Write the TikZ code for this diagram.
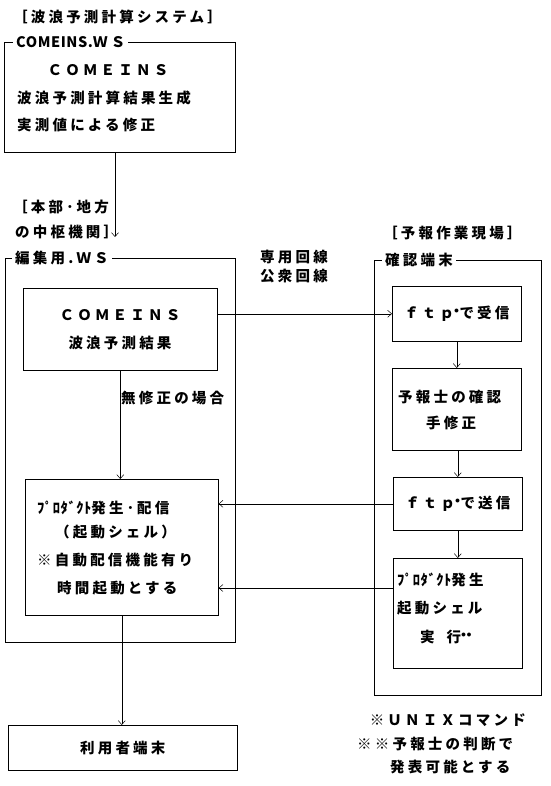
\documentclass[tikz,border=0pt]{standalone}
\usepackage{fontspec}
\usetikzlibrary{arrows.meta}
\newfontfamily\jp[LetterSpace=22]{Noto Sans CJK JP}
\newfontfamily\jpt[LetterSpace=4]{Noto Sans CJK JP}
\newcommand{\fmark}{$^{\bullet}$}
\newcommand{\pdk}{{\jpt\bfseries ﾌﾟﾛﾀﾞｸﾄ}}
\begin{document}
\begin{tikzpicture}[x=1pt,y=-1pt,
  txt/.style={inner sep=0pt, anchor=west, font={\jp\bfseries\fontsize{14.5}{16}\selectfont}},
  ctxt/.style={txt, anchor=center},
  frame/.style={draw, line width=1.1pt, anchor=north west, inner sep=0pt},
  box/.style={draw, line width=0.6pt, anchor=north west, inner sep=0pt},
  arr/.style={-{Straight Barb[length=4pt,width=7pt]}, line width=0.5pt},
  flabel/.style={txt, fill=white, inner xsep=3pt, inner ysep=2pt},
]
\useasboundingbox (0,0) rectangle (550,786);

% ---- top system
\node[txt] (t1) at (13,17) {［波浪予測計算システム］};
\node[frame, minimum width=231pt, minimum height=110pt] (topf) at (4,42) {};
\node[flabel] (topl) at (13,42) {{\jpt\bfseries COMEINS.}ＷＳ};
\node[ctxt] (t2) at (108,70) {ＣＯＭＥＩＮＳ};
\node[txt] (t3) at (17,98) {波浪予測計算結果生成};
\node[txt] (t4) at (17,125) {実測値による修正};

\node[txt] (h1) at (13,207) {［本部･地方};
\node[txt] (h2) at (15,232) {の中枢機関］};
\coordinate (a1) at (115,237);
\draw[arr] (topf.south -| a1) -- (a1);

% ---- editing WS
\node[frame, minimum width=230pt, minimum height=384pt] (editf) at (5,258) {};
\node[flabel] (editl) at (12,258) {編集用.ＷＳ};
\node[box, minimum width=194pt, minimum height=82pt] (cbox) at (23,288) {};
\node[ctxt] (c1) at (120,315) {ＣＯＭＥＩＮＳ};
\node[ctxt] (c2) at (120,343) {波浪予測結果};
\node[txt] (nm) at (121,398) {無修正の場合};

\node[box, minimum width=193pt, minimum height=136pt] (prod) at (25,479) {};
\node[txt] (p1) at (37,508) {\pdk 発生･配信};
\node[txt] (p2) at (55,532) {（起動シェル）};
\node[txt] (p3) at (37,560) {※自動配信機能有り};
\node[txt] (p4) at (57,588) {時間起動とする};

\node[box, minimum width=229pt, minimum height=45pt] (user) at (8,725) {};
\node[ctxt] (u1) at (user.center) {利用者端末};

% ---- lines label
\node[txt] (l1) at (260,257) {専用回線};
\node[txt] (l2) at (260,276) {公衆回線};

% ---- confirm terminal
\node[txt] (r0) at (383,233) {［予報作業現場］};
\node[frame, minimum width=167pt, minimum height=435pt] (conff) at (374,260) {};
\node[flabel] (confl) at (382,260) {確認端末};
\node[box, minimum width=129pt, minimum height=55pt] (recv) at (392,286) {};
\node[ctxt] (r1) at (recv.center) {ｆｔｐ\fmark で受信};
\node[box, minimum width=129pt, minimum height=82pt] (chk) at (392,368) {};
\node[txt] (k1) at (398,397) {予報士の確認};
\node[txt] (k2) at (426,423) {手修正};
\node[box, minimum width=129pt, minimum height=53pt] (send) at (393,477) {};
\node[ctxt] (s1) at (send.center) {ｆｔｐ\fmark で送信};
\node[box, minimum width=129pt, minimum height=110pt] (gen) at (393,558) {};
\node[txt] (g1) at (397,580) {\pdk 発生};
\node[txt] (g2) at (397,608) {起動シェル};
\node[txt] (g3) at (420,637) {実\hspace{12pt}行\fmark\fmark};

% ---- notes
\node[txt, anchor=east] (n1) at (526,720) {※ＵＮＩＸコマンド};
\node[txt] (n2) at (357,744) {※※予報士の判断で};
\node[txt] (n3) at (390,767) {発表可能とする};

% ---- connectors
\draw[arr] (cbox.south) -- (cbox.south |- prod.north);
\draw[arr] (prod.south) -- (prod.south |- user.north);
\draw[arr] (recv.west -| cbox.east) -- (recv.west);
\draw[arr] (recv.south) -- (recv.south |- chk.north);
\draw[arr] (chk.south -| send.north) -- (send.north);
\draw[arr] (send.south) -- (send.south |- gen.north);
\draw[arr] (send.west) -- (send.west -| prod.east);
\draw[arr] (gen.west |- p4) -- (prod.east |- p4);
\end{tikzpicture}
\end{document}
